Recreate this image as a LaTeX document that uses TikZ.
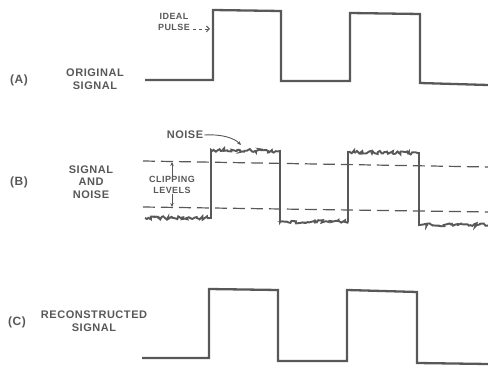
\documentclass[tikz,border=0pt]{standalone}
\usepackage{fontspec}
\setmainfont{Liberation Sans}
\newfontfamily\labelfont[LetterSpace=5]{Liberation Sans}
\usepackage{tikz}
\usetikzlibrary{arrows.meta,positioning,calc,decorations.pathmorphing}
\definecolor{InkGray}{RGB}{88,88,88}
\tikzset{
  % waveform and annotation styles
  pulse/.style={line width=2.3pt, InkGray, line join=miter},
  clipline/.style={line width=1.2pt, InkGray, dash pattern=on 12pt off 6pt},
  noisy/.style={decoration={random steps, segment length=1.6pt, amplitude=1.7pt}},
  caption/.style={font=\labelfont\bfseries\fontsize{11}{12.5}\selectfont, text=InkGray, align=center, inner sep=1pt},
  small/.style={font=\labelfont\bfseries\fontsize{9}{10.2}\selectfont, text=InkGray, align=center, inner sep=1pt},
  tag/.style={font=\labelfont\bfseries\fontsize{12}{13}\selectfont, text=InkGray, inner sep=1pt},
  pointer/.style={-{Stealth[length=4pt,width=3.5pt]}, line width=0.9pt, InkGray},
}
\begin{document}
\begin{tikzpicture}[x=1pt, y=-1pt]
  \useasboundingbox (0,0) rectangle (488,366);
  \pgfmathsetseed{42}

  % (A) original signal
  \node[tag]     (tagA)  at (19,80)  {(A)};
  \node[caption] (origA) at (95,79)  {ORIGINAL\\SIGNAL};
  \node[small]   (ideal) at (174,22) {IDEAL\\PULSE};

  \draw[pulse] (145,80) -- (213,80) -- (213,10) -- (281,11) -- (281,81)
               -- (350,81) -- (350,13) -- (420,14) -- (420,83) -- (488,85);
  \coordinate (riseA) at (210,29);
  \draw[line width=0.9pt, InkGray, dashed, -{Straight Barb[length=3pt]}]
       (ideal.east |- riseA) ++(2,0) -- (riseA);

  % (B) signal and noise
  \node[tag]     (tagB)  at (19,182) {(B)};
  \node[caption] (sigB)  at (91,182) {SIGNAL\\AND\\NOISE};
  \node[caption] (noise) at (185,135) {NOISE};
  \node[small]   (clip)  at (172,185) {CLIPPING\\LEVELS};

  \draw[clipline] (143,161) -- (488,167);
  \draw[clipline] (143,207) -- (488,212);

  \draw[pulse, line width=1.9pt] (145,218)
       decorate[noisy]{-- (211,218)} -- (211,150)
       decorate[noisy]{-- (280,151)} -- (280,222)
       decorate[noisy]{-- (348,221)} -- (348,152)
       decorate[noisy]{-- (419,153)} -- (419,225)
       decorate[noisy]{-- (488,225)};

  \coordinate (noisetip) at (241,145);
  \coordinate (cliptop)  at (172,162);
  \coordinate (clipbot)  at (172,207);
  \draw[pointer] (noise.east) .. controls (222,134) and (234,138) .. (noisetip);
  \draw[pointer] (clip.north) -- (cliptop);
  \draw[pointer] (clip.south) -- (clipbot);

  % (C) reconstructed signal
  \node[tag]     (tagC)  at (17,322) {(C)};
  \node[caption] (recC)  at (94,321) {RECONSTRUCTED\\SIGNAL};

  \draw[pulse] (142,358) -- (209,358) -- (209,289) -- (278,290) -- (278,361)
               -- (347,361) -- (347,290) -- (417,292) -- (417,363) -- (488,364);

\end{tikzpicture}
\end{document}
